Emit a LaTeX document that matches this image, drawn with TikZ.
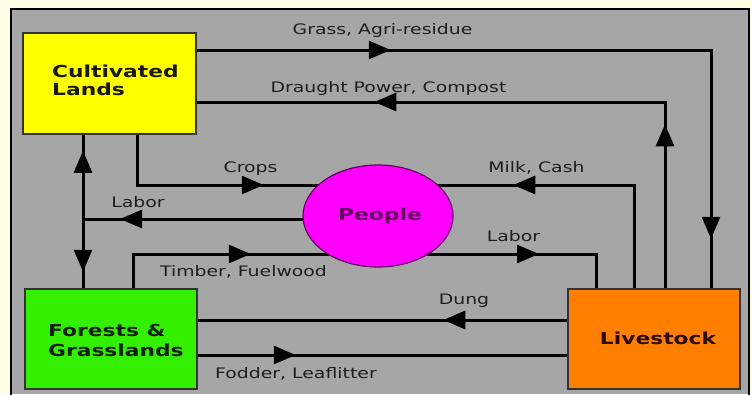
\documentclass[tikz,border=0pt]{standalone}
\usepackage{fontspec}
\setmainfont{DejaVu Sans}
\newfontfamily\labfont[FakeStretch=1.3]{DejaVu Sans}
\newfontfamily\boxfont[FakeStretch=1.32]{DejaVu Sans Bold}
\usetikzlibrary{arrows.meta,decorations.markings,calc,shapes.geometric}
\pgfdeclarelayer{back}
\pgfdeclarelayer{lines}
\pgfsetlayers{back,lines,main}
\definecolor{cream}{HTML}{FFFFE6}
\definecolor{bggray}{HTML}{A6A6A6}
\definecolor{cultyellow}{HTML}{FFFF00}
\definecolor{forestgreen}{HTML}{33F000}
\definecolor{liveorange}{HTML}{FF8000}
\definecolor{peoplemag}{HTML}{FF00FF}
\definecolor{peopleink}{HTML}{660066}
\definecolor{cultink}{HTML}{1A1A00}
\definecolor{forestink}{HTML}{0F200A}
\definecolor{liveink}{HTML}{2A0A00}
\definecolor{labink}{HTML}{1E1E1E}
\tikzset{
  box/.style={draw=black!80, line width=1.5pt, inner sep=0pt},
  boxtxt/.style={font=\boxfont\fontsize{16.5}{20}\selectfont, inner sep=0pt},
  lab/.style={font=\labfont\fontsize{14.5}{17}\selectfont, text=labink, inner sep=0pt, anchor=base},
  conn/.style={line width=3pt, black},
  tipat/.style={postaction={decorate, decoration={markings, mark=at position #1pt with {\arrow{Triangle[length=22pt,width=18pt]}}}}},
  tiprev/.style={postaction={decorate, decoration={markings, mark=at position #1pt with {\arrowreversed{Triangle[length=22pt,width=18pt]}}}}}
}
\begin{document}
\begin{tikzpicture}[x=1pt,y=-1pt]
\useasboundingbox (0,0) rectangle (752,394);
\clip (0,0) rectangle (752,394);
\begin{pgfonlayer}{back}
\fill[cream] (0,0) rectangle (752,394);
\fill[bggray] (11,9) rectangle (749,394);
\draw[line width=2.5pt] (11,396) -- (11,9) -- (749,9) -- (749,396);
\end{pgfonlayer}

% boxes
\node[box, fill=cultyellow, minimum width=173pt, minimum height=101pt] (cult) at (109.5,83.5) {};
\node[box, fill=forestgreen, minimum width=172pt, minimum height=100pt] (forest) at (111,339) {};
\node[box, fill=liveorange, minimum width=172pt, minimum height=100pt] (live) at (654,339) {};
\node[ellipse, draw=peopleink, line width=1.2pt, fill=peoplemag, inner sep=0pt, minimum width=150pt, minimum height=102pt] (people) at (378,216) {};

% box texts
\node[boxtxt, text=cultink, anchor=base west] (cultA) at (52,77) {Cultivated};
\node[boxtxt, text=cultink, anchor=base west] (cultB) at (52,95) {Lands};
\node[boxtxt, text=forestink, anchor=base west] (forA) at (48,336) {Forests \&};
\node[boxtxt, text=forestink, anchor=base west] (forB) at (48,356) {Grasslands};
\node[boxtxt, text=liveink, anchor=base] (liveT) at (658,344) {Livestock};
\node[boxtxt, text=peopleink, anchor=base] (peopleT) at (380,220) {People};

% labels
\node[lab] (lgrass) at (382.5,34) {Grass, Agri-residue};
\node[lab] (ldraught) at (388.5,92) {Draught Power, Compost};
\node[lab] (lcrops) at (250.5,172) {Crops};
\node[lab] (lmilk) at (536.5,172) {Milk, Cash};
\node[lab] (llaborL) at (138,207) {Labor};
\node[lab] (llaborR) at (513.5,241) {Labor};
\node[lab] (ltimber) at (243.5,276) {Timber, Fuelwood};
\node[lab] (ldung) at (464,304) {Dung};
\node[lab] (lfodder) at (296,378) {Fodder, Leaflitter};

% connectors
\begin{pgfonlayer}{lines}
\coordinate (g) at (711,50);
\draw[conn, tipat=194, tipat=703] (g -| cult.east) -- (g) -- (g |- live.north);
\coordinate (d) at (665,102);
\draw[conn, tipat=164, tipat=477] (d |- live.north) -- (d) -- (d -| cult.east);
\coordinate (m) at (634,185);
\draw[conn, tipat=224] (m |- live.north) -- (m) -- (m -| people.center);
\coordinate (c) at (137,185);
\draw[conn, tipat=177] (c |- cult.south) -- (c) -- (c -| people.center);
\coordinate (l) at (83,219);
\draw[conn, tipat=258] (l -| people.center) -- (l);
\draw[conn, tiprev=16, tipat=137] (l |- cult.south) -- (l |- forest.north);
\coordinate (t) at (133,254);
\draw[conn, tipat=152] (t |- forest.north) -- (t) -- (t -| people.center);
\coordinate (r) at (596,254);
\draw[conn, tipat=161] (r -| people.center) -- (r) -- (r |- live.north);
\coordinate (dg) at (0,320);
\draw[conn, tipat=124] (dg -| live.west) -- (dg -| forest.east);
\coordinate (f) at (0,355);
\draw[conn, tipat=98] (f -| forest.east) -- (f -| live.west);
\end{pgfonlayer}
\end{tikzpicture}
\end{document}
